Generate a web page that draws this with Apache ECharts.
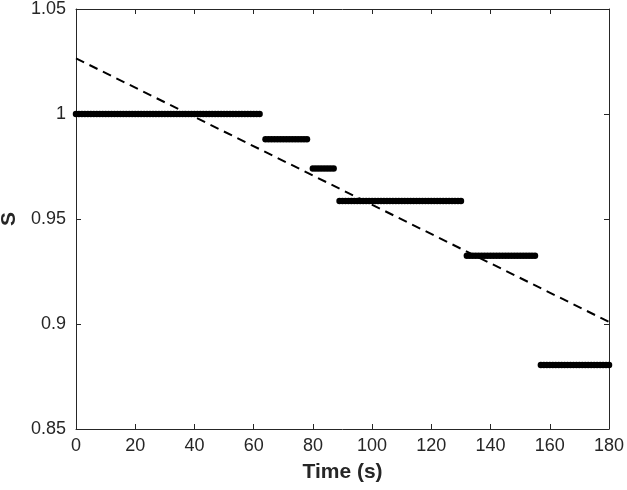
<!DOCTYPE html>
<html>
<head>
<meta charset="utf-8">
<script src="https://cdn.jsdelivr.net/npm/echarts@6/dist/echarts.min.js"></script>
<style>html,body{margin:0;padding:0;background:#fff}#c{width:627px;height:490px}</style>
</head>
<body>
<div id="c"></div>
<script>
// Step segments: first and last sample time (s) and the constant S value
var segStart = [0, 64, 80, 89, 132, 157];
var segEnd   = [62, 78, 87, 130, 155, 180];
var segValue = [1.0, 0.988, 0.974, 0.9586, 0.9325, 0.8805];
// Dashed trend line endpoints
var trendX = [0, 180];
var trendY = [1.0265, 0.901];
// Axis ticks
var xTicks = [0, 20, 40, 60, 80, 100, 120, 140, 160, 180];
var yTicks = [0.85, 0.9, 0.95, 1, 1.05];

var pts = [];
for (var i = 0; i < segStart.length; i++) {
  for (var t = segStart[i]; t <= segEnd[i]; t++) pts.push([t, segValue[i]]);
}
var trend = trendX.map(function (x, i) { return [x, trendY[i]]; });

var axisColor = '#262626';
var font = 'Liberation Sans, Arial, Helvetica, sans-serif';
var chart = echarts.init(document.getElementById('c'), null, {renderer: 'canvas'});
chart.setOption({
  animation: false,
  grid: {left: 76, right: 18, top: 9, bottom: 61, containLabel: false, outerBoundsMode: 'none'},
  xAxis: [{
    type: 'value', min: xTicks[0], max: xTicks[xTicks.length - 1], interval: 20,
    name: 'Time (s)', nameLocation: 'middle', nameGap: 33,
    nameTextStyle: {fontFamily: font, fontSize: 21, fontWeight: 'bold', color: axisColor},
    axisLine: {show: true, onZero: false, lineStyle: {color: axisColor, width: 1}},
    axisTick: {show: true, inside: true, length: 5, lineStyle: {color: axisColor}},
    axisLabel: {fontFamily: font, fontSize: 18, color: axisColor, margin: 8},
    splitLine: {show: false}
  }, {
    type: 'value', position: 'top', min: xTicks[0], max: xTicks[xTicks.length - 1], interval: 20,
    axisLine: {show: true, onZero: false, lineStyle: {color: axisColor, width: 1}},
    axisTick: {show: true, inside: true, length: 5, lineStyle: {color: axisColor}},
    axisLabel: {show: false}, splitLine: {show: false}
  }],
  yAxis: [{
    type: 'value', min: yTicks[0], max: yTicks[yTicks.length - 1], interval: 0.05,
    name: 'S', nameLocation: 'middle', nameGap: 56,
    nameTextStyle: {fontFamily: font, fontSize: 21, fontWeight: 'bold', color: axisColor},
    axisLine: {show: true, onZero: false, lineStyle: {color: axisColor, width: 1}},
    axisTick: {show: true, inside: true, length: 5, lineStyle: {color: axisColor}},
    axisLabel: {fontFamily: font, fontSize: 18, color: axisColor, margin: 10},
    splitLine: {show: false}
  }, {
    type: 'value', position: 'right', min: yTicks[0], max: yTicks[yTicks.length - 1], interval: 0.05,
    axisLine: {show: true, onZero: false, lineStyle: {color: axisColor, width: 1}},
    axisTick: {show: true, inside: true, length: 5, lineStyle: {color: axisColor}},
    axisLabel: {show: false}, splitLine: {show: false}
  }],
  series: [{
    type: 'scatter', data: pts, symbol: 'circle', symbolSize: 6.5, clip: true,
    itemStyle: {color: '#000', opacity: 1}
  }, {
    type: 'line', data: trend, symbol: 'none', clip: true,
    lineStyle: {color: '#000', width: 2, type: [9, 6]}
  }]
});
</script>
</body>
</html>
